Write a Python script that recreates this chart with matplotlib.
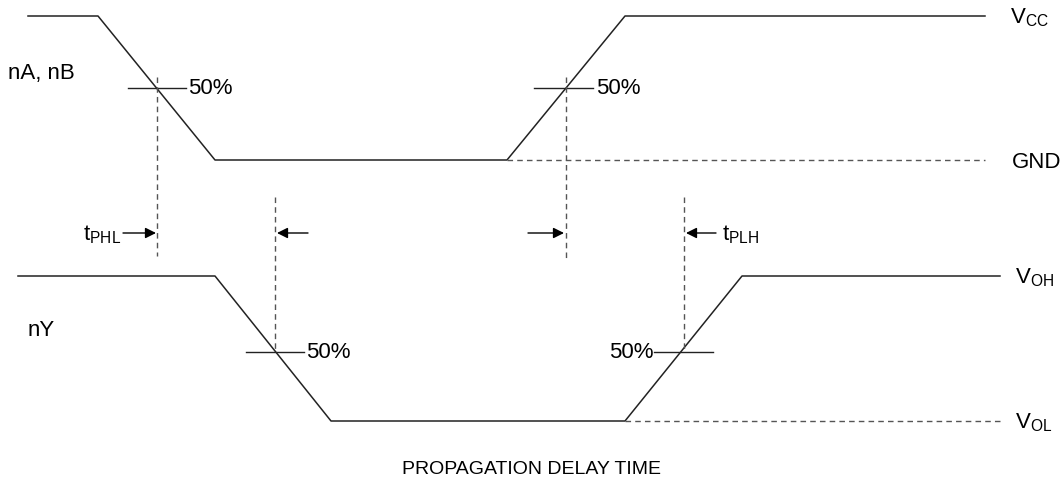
import matplotlib.pyplot as plt

plt.rcParams['font.family'] = ['Liberation Sans', 'DejaVu Sans']
plt.rcParams['mathtext.fontset'] = 'custom'
plt.rcParams['mathtext.rm'] = 'Liberation Sans'
plt.rcParams['mathtext.it'] = 'Liberation Sans'

# waveform corners, in picture units (x right, y down)
in_x = [28, 98, 215, 507, 625, 985]
in_y = [16, 16, 160, 160, 16, 16]
gnd_x = [507, 985]
gnd_y = [160, 160]

out_x = [18, 215, 331, 625, 742, 1000]
out_y = [276, 276, 421, 421, 276, 276]
vol_x = [625, 1000]
vol_y = [421, 421]

# 50% marks: (x0, x1, y)
ticks_50 = [(128, 186, 88), (534, 593, 88), (246, 304, 352), (654, 713, 352)]
# vertical dashed markers: (x, y0, y1)
markers = [(157, 77, 256), (566, 77, 259), (275, 197, 352), (684, 197, 352)]
# arrows: (tail x, head x)
arrows = [(123, 156), (308, 277), (528, 564), (716, 686)]
arrow_y = 233

rail_labels = [r'$\mathrm{V_{CC}}$', 'GND', r'$\mathrm{V_{OH}}$', r'$\mathrm{V_{OL}}$']
rail_pos = [(1010, 16), (1012, 160), (1015, 276), (1015, 421)]

fig = plt.figure(figsize=(10.63, 4.79), dpi=100)
ax = fig.add_axes([0, 0, 1, 1])
ax.set_xlim(0, 1063)
ax.set_ylim(479, 0)
ax.axis('off')

line_c = '#222222'
dash_c = '#555555'

ax.plot(in_x, in_y, color=line_c, lw=1.1)
ax.plot(gnd_x, gnd_y, color=dash_c, lw=1.0, ls=(0, (4, 3)))
ax.plot(out_x, out_y, color=line_c, lw=1.1)
ax.plot(vol_x, vol_y, color=dash_c, lw=1.0, ls=(0, (4, 3)))

for x0, x1, y in ticks_50:
    ax.plot([x0, x1], [y, y], color=line_c, lw=1.0)

for x, y0, y1 in markers:
    ax.plot([x, x], [y0, y1], color=dash_c, lw=1.0, ls=(0, (4, 3)))

for xt, xh in arrows:
    ax.annotate('', xy=(xh, arrow_y), xytext=(xt, arrow_y),
                arrowprops=dict(arrowstyle='-|>', color='black', lw=1.0,
                                mutation_scale=16, shrinkA=0, shrinkB=0))

fs = 16
ax.text(188, 88, '50%', fontsize=fs, va='center', ha='left')
ax.text(596, 88, '50%', fontsize=fs, va='center', ha='left')
ax.text(306, 353, '50%', fontsize=fs, va='center', ha='left')
ax.text(654, 353, '50%', fontsize=fs, va='center', ha='right')

ax.text(8, 73, 'nA, nB', fontsize=fs, va='center', ha='left')
ax.text(28, 330, 'nY', fontsize=fs, va='center', ha='left')

ax.text(121, 235, r'$\mathrm{t_{PHL}}$', fontsize=fs, va='center', ha='right')
ax.text(722, 235, r'$\mathrm{t_{PLH}}$', fontsize=fs, va='center', ha='left')

for lab, (x, y) in zip(rail_labels, rail_pos):
    ax.text(x, y + 2, lab, fontsize=fs, va='center', ha='left')

ax.text(531, 469, 'PROPAGATION DELAY TIME', fontsize=14, va='center', ha='center')

fig.savefig('out.png', dpi=100)
